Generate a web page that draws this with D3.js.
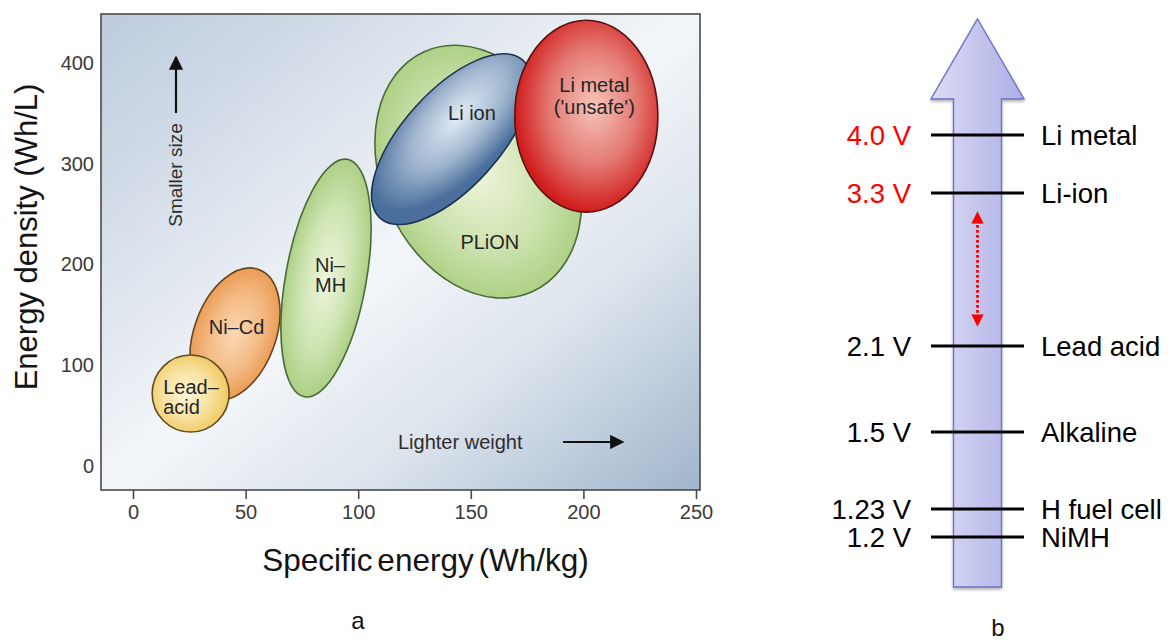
<!DOCTYPE html>
<html>
<head>
<meta charset="utf-8">
<script src="https://cdn.jsdelivr.net/npm/d3@7"></script>
<style>
  html, body { margin: 0; padding: 0; background: #fff; }
  svg { display: block; }
  text { font-family: "Liberation Sans", Arial, Helvetica, sans-serif; }
</style>
</head>
<body>
<svg id="chart" width="1173" height="642"></svg>
<script>
// ---- Panel a: battery chemistries, energy density vs specific energy ----
const chemistries  = ["Lead–acid", "Ni–Cd", "Ni–MH", "PLiON", "Li ion", "Li metal"];
// each region is an ellipse whose long axis runs from the low end to the high end
const lowEnergy    = [25.6, 34.8, 76.2, 177.4, 109.7, 201.3];   // Wh/kg
const lowDensity   = [33.7, 67.0, 68.7, 173.1, 246.0, 252.0];   // Wh/L
const highEnergy   = [25.6, 55.8, 95.2, 129.3, 173.1, 201.3];   // Wh/kg
const highDensity  = [110.1, 195.0, 304.4, 411.2, 402.8, 442.5]; // Wh/L
const halfWidth    = [38.2, 40.5, 40.0, 96.0, 48.0, 71.0];      // Wh/L across the long axis
const xTicks = [0, 50, 100, 150, 200, 250];
const yTicks = [0, 100, 200, 300, 400];

// ---- Panel b: nominal cell voltages ----
const cells    = ["Li metal", "Li-ion", "Lead acid", "Alkaline", "H fuel cell", "NiMH"];
const voltages = [4.0, 3.3, 2.1, 1.5, 1.23, 1.2];
const voltLabels = ["4.0 V", "3.3 V", "2.1 V", "1.5 V", "1.23 V", "1.2 V"];

const svg = d3.select("#chart");
const defs = svg.append("defs");

// background wash of the plot area
const bg = defs.append("linearGradient").attr("id", "plotBg")
  .attr("x1", 0).attr("y1", 0).attr("x2", 1).attr("y2", 1);
[[0, "#bccbdd"], [0.3, "#dde4ed"], [0.5, "#f3f6f9"], [0.72, "#dbe3ec"], [1, "#a0b5cc"]]
  .forEach(([o, c]) => bg.append("stop").attr("offset", o).attr("stop-color", c));

// per-chemistry shading
const palette = {
  "Lead–acid": { inner: "#fff7d8", outer: "#f0c860", stroke: "#5e4c1e", cx: 0.5, cy: 0.45 },
  "Ni–Cd":     { inner: "#fbd8b4", outer: "#e9954a", stroke: "#6a431c", cx: 0.5, cy: 0.5 },
  "Ni–MH":     { inner: "#eef6dc", outer: "#a4cb7a", stroke: "#4a6a36", cx: 0.5, cy: 0.5 },
  "PLiON":     { inner: "#eef5da", outer: "#a6cc7c", stroke: "#4a6a36", cx: 0.5, cy: 0.5 },
  "Li ion":    { inner: "#e2ecf6", outer: "#4a6f9c", stroke: "#1e3250", cx: 0.6, cy: 0.4 },
  "Li metal":  { inner: "#f5c6bb", outer: "#d01c1c", stroke: "#571010", cx: 0.55, cy: 0.55 }
};
chemistries.forEach((name, i) => {
  const p = palette[name];
  const g = defs.append("radialGradient").attr("id", "grad" + i)
    .attr("cx", p.cx).attr("cy", p.cy).attr("r", 0.55);
  g.append("stop").attr("offset", 0).attr("stop-color", p.inner);
  g.append("stop").attr("offset", 0.55).attr("stop-color", d3.interpolateRgb(p.inner, p.outer)(0.45));
  g.append("stop").attr("offset", 1).attr("stop-color", p.outer);
});

const frame = { left: 101, top: 14, right: 700, bottom: 490 };
const x = d3.scaleLinear().domain([0, 250]).range([133, 696]);
const y = d3.scaleLinear().domain([0, 400]).range([466, 63]);

svg.append("rect")
  .attr("x", frame.left).attr("y", frame.top)
  .attr("width", frame.right - frame.left).attr("height", frame.bottom - frame.top)
  .attr("fill", "url(#plotBg)");

// chemistry regions
const regions = chemistries.map((name, i) => {
  const x1 = x(lowEnergy[i]), y1 = y(lowDensity[i]);
  const x2 = x(highEnergy[i]), y2 = y(highDensity[i]);
  return {
    name, i,
    cx: (x1 + x2) / 2, cy: (y1 + y2) / 2,
    rx: Math.hypot(x2 - x1, y2 - y1) / 2,
    ry: Math.abs(y(0) - y(halfWidth[i])),
    angle: Math.atan2(y2 - y1, x2 - x1) * 180 / Math.PI
  };
});
// paint order: larger regions beneath the ones that overlap them
const paintOrder = ["Ni–Cd", "Lead–acid", "Ni–MH", "PLiON", "Li ion", "Li metal"];
const regionG = svg.append("g");
paintOrder.map(n => regions.find(r => r.name === n)).forEach(r => {
  regionG.append("ellipse")
    .attr("transform", `translate(${r.cx},${r.cy}) rotate(${r.angle})`)
    .attr("rx", r.rx).attr("ry", r.ry)
    .attr("fill", `url(#grad${r.i})`)
    .attr("stroke", palette[r.name].stroke)
    .attr("stroke-width", 1.6);
});

// region labels, offset from each ellipse centre
const labelLines = {
  "Lead–acid": { lines: ["Lead–", "acid"], dx: -27.5, dy: [-7, 13], anchor: "start" },
  "Ni–Cd":     { lines: ["Ni–Cd"], dx: 1.5, dy: [-7], anchor: "middle" },
  "Ni–MH":     { lines: ["Ni–", "MH"], dx: -11, dy: [-13, 7], anchor: "start" },
  "PLiON":     { lines: ["PLiON"], dx: 11.5, dy: [70.5], anchor: "middle" },
  "Li ion":    { lines: ["Li ion"], dx: 20.5, dy: [-26], anchor: "middle" },
  "Li metal":  { lines: ["Li metal", "('unsafe')"], dx: 8, dy: [-31, -9], anchor: "middle" }
};
regions.forEach(r => {
  const L = labelLines[r.name];
  L.lines.forEach((t, k) => {
    svg.append("text")
      .attr("x", r.cx + L.dx).attr("y", r.cy + L.dy[k])
      .attr("dy", "0.36em")
      .attr("text-anchor", L.anchor)
      .attr("font-size", 20).attr("fill", "#262626")
      .text(t);
  });
});

// frame
svg.append("rect")
  .attr("x", frame.left).attr("y", frame.top)
  .attr("width", frame.right - frame.left).attr("height", frame.bottom - frame.top)
  .attr("fill", "none").attr("stroke", "#4a4a4a").attr("stroke-width", 1.6);

// axes
const xAxis = svg.append("g").attr("transform", `translate(0,${frame.bottom})`)
  .call(d3.axisBottom(x).tickValues(xTicks).tickSize(9).tickPadding(6));
xAxis.select(".domain").remove();
xAxis.selectAll("line").attr("stroke", "#4a4a4a").attr("stroke-width", 1.6);
xAxis.selectAll("text").attr("font-size", 20).attr("fill", "#3a3a3a")
  .attr("font-family", "Liberation Sans, Arial, sans-serif");

const yAxis = svg.append("g").attr("transform", `translate(${frame.left},0)`)
  .call(d3.axisLeft(y).tickValues(yTicks).tickSize(0).tickPadding(7));
yAxis.select(".domain").remove();
yAxis.selectAll("text").attr("font-size", 20).attr("fill", "#3a3a3a")
  .attr("font-family", "Liberation Sans, Arial, sans-serif");

svg.append("text")
  .attr("transform", `translate(37,${237}) rotate(-90)`)
  .attr("text-anchor", "middle").attr("font-size", 31).attr("fill", "#141414")
  .text("Energy density (Wh/L)");
svg.append("text")
  .attr("x", 425.5).attr("y", 571)
  .attr("text-anchor", "middle").attr("font-size", 31.5).attr("fill", "#141414")
  .attr("word-spacing", -4)
  .text("Specific energy (Wh/kg)");

// direction hints inside the plot
defs.append("marker").attr("id", "blackHead")
  .attr("viewBox", "0 0 10 10").attr("refX", 9).attr("refY", 5)
  .attr("markerWidth", 6.5).attr("markerHeight", 6.5).attr("orient", "auto")
  .attr("markerUnits", "strokeWidth")
  .append("path").attr("d", "M0,0 L10,5 L0,10 Z").attr("fill", "#111");

svg.append("line")
  .attr("x1", 176).attr("y1", 113).attr("x2", 176).attr("y2", 57)
  .attr("stroke", "#111").attr("stroke-width", 2.2).attr("marker-end", "url(#blackHead)");
svg.append("text")
  .attr("transform", "translate(182,175) rotate(-90)")
  .attr("text-anchor", "middle").attr("font-size", 19).attr("fill", "#2e2e2e")
  .text("Smaller size");

svg.append("text")
  .attr("x", 398).attr("y", 449)
  .attr("font-size", 20).attr("fill", "#2e2e2e")
  .text("Lighter weight");
svg.append("line")
  .attr("x1", 563).attr("y1", 442).attr("x2", 623).attr("y2", 442)
  .attr("stroke", "#111").attr("stroke-width", 2.2).attr("marker-end", "url(#blackHead)");

svg.append("text")
  .attr("x", 358).attr("y", 629).attr("text-anchor", "middle")
  .attr("font-family", "Open Sans, sans-serif").attr("font-size", 24).attr("fill", "#111")
  .text("a");

// ---- Panel b ----
const v = d3.scaleLinear().domain(voltages).range([135, 193, 346, 432, 509, 537]);
const arrow = { cx: 977.5, tip: 19, headBase: 99, headHalf: 46.5, shaftHalf: 24, bottom: 587 };

const ag = defs.append("linearGradient").attr("id", "arrowFill")
  .attr("x1", 0).attr("y1", 0).attr("x2", 1).attr("y2", 0);
ag.append("stop").attr("offset", 0).attr("stop-color", "#dcdcf5");
ag.append("stop").attr("offset", 1).attr("stop-color", "#adafe5");
const sh = defs.append("filter").attr("id", "arrowShadow")
  .attr("x", "-20%").attr("y", "-5%").attr("width", "140%").attr("height", "110%");
sh.append("feDropShadow").attr("dx", 0).attr("dy", 2).attr("stdDeviation", 1.5)
  .attr("flood-color", "#000").attr("flood-opacity", 0.3);

const ap = d3.path();
ap.moveTo(arrow.cx, arrow.tip);
ap.lineTo(arrow.cx + arrow.headHalf, arrow.headBase);
ap.lineTo(arrow.cx + arrow.shaftHalf, arrow.headBase);
ap.lineTo(arrow.cx + arrow.shaftHalf, arrow.bottom);
ap.lineTo(arrow.cx - arrow.shaftHalf, arrow.bottom);
ap.lineTo(arrow.cx - arrow.shaftHalf, arrow.headBase);
ap.lineTo(arrow.cx - arrow.headHalf, arrow.headBase);
ap.closePath();
svg.append("path").attr("d", ap.toString())
  .attr("fill", "url(#arrowFill)").attr("stroke", "#6d72c2").attr("stroke-width", 1.4)
  .attr("filter", "url(#arrowShadow)");

const levels = svg.append("g");
voltages.forEach((val, i) => {
  const yy = v(val);
  levels.append("line")
    .attr("x1", arrow.cx - arrow.headHalf).attr("x2", arrow.cx + arrow.headHalf)
    .attr("y1", yy).attr("y2", yy)
    .attr("stroke", "#000").attr("stroke-width", 3.2);
  levels.append("text")
    .attr("x", 911).attr("y", yy).attr("dy", "0.35em")
    .attr("text-anchor", "end").attr("font-size", 27.5)
    .attr("fill", val >= 3 ? "#ff0000" : "#000")
    .text(voltLabels[i]);
  levels.append("text")
    .attr("x", 1041).attr("y", yy).attr("dy", "0.35em")
    .attr("font-size", 27.5).attr("fill", "#000")
    .text(cells[i]);
});

// dotted red double arrow between the Li-ion and lead-acid levels
defs.append("marker").attr("id", "redHead")
  .attr("viewBox", "0 0 10 10").attr("refX", 7).attr("refY", 5)
  .attr("markerWidth", 4.4).attr("markerHeight", 4.4).attr("orient", "auto-start-reverse")
  .attr("markerUnits", "strokeWidth")
  .append("path").attr("d", "M0,0 L10,5 L0,10 Z").attr("fill", "#ff0000");
svg.append("line")
  .attr("x1", arrow.cx).attr("x2", arrow.cx)
  .attr("y1", v(3.3) + 22).attr("y2", v(2.1) - 23)
  .attr("stroke", "#ff0000").attr("stroke-width", 2.8)
  .attr("stroke-dasharray", "2.8,2.2")
  .attr("marker-start", "url(#redHead)").attr("marker-end", "url(#redHead)");

svg.append("text")
  .attr("x", 998).attr("y", 636).attr("text-anchor", "middle")
  .attr("font-family", "Open Sans, sans-serif").attr("font-size", 24).attr("fill", "#111")
  .text("b");
</script>
</body>
</html>
